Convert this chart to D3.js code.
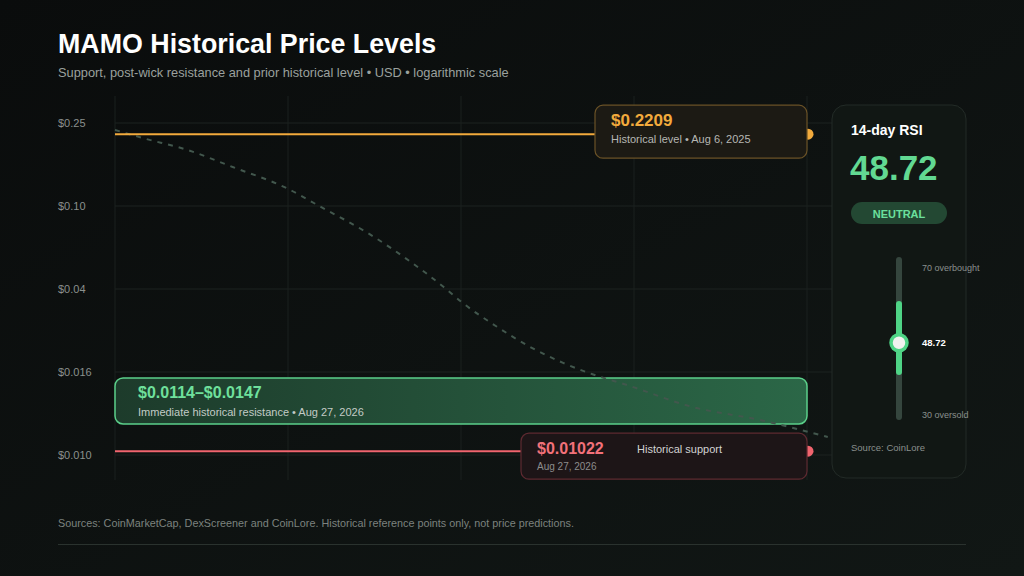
<!DOCTYPE html>
<html>
<head>
<meta charset="utf-8">
<script src="https://cdn.jsdelivr.net/npm/d3@7"></script>
<style>
  html, body { margin: 0; padding: 0; background: #0c0e0e; }
  svg { display: block; font-family: "Liberation Sans", Arial, sans-serif; }
</style>
</head>
<body>
<div id="chart"></div>
<script>
// price levels (USD)
var yTicks = [0.25, 0.10, 0.04, 0.016, 0.010];
var yTickLabels = ["$0.25", "$0.10", "$0.04", "$0.016", "$0.010"];
var xTicks = [0, 1, 2, 3, 4];

var historicalLevel = 0.2209;
var supportLevel = 0.01022;
var resistanceBand = [0.0114, 0.0147];

// faint trend path behind the levels (x = period index, y = price)
var trendX = [0, 0.16, 0.42, 0.68, 0.99, 1.19, 1.46, 1.71, 1.9, 2.01, 2.21, 2.4, 2.59, 2.76, 2.96, 3.34, 3.73, 4.12];
var trendPrice = [0.2314, 0.2118, 0.1855, 0.1538, 0.122, 0.099, 0.0743, 0.0539, 0.0409, 0.0343, 0.0263, 0.0211, 0.0177, 0.0158, 0.01486, 0.01312, 0.01219, 0.01107];

// RSI
var rsiValue = 48.72;
var rsiBounds = [30, 70];
var rsiNeutral = [40, 60];

var W = 1024, H = 576;
var svg = d3.select("#chart").append("svg")
    .attr("width", W)
    .attr("height", H);

var defs = svg.append("defs");
var bg = defs.append("linearGradient").attr("id", "bg")
    .attr("x1", 0).attr("y1", 0).attr("x2", 1).attr("y2", 1);
bg.append("stop").attr("offset", "0%").attr("stop-color", "#0a0c0c");
bg.append("stop").attr("offset", "100%").attr("stop-color", "#111715");

var band = defs.append("linearGradient").attr("id", "band")
    .attr("x1", 0).attr("y1", 0).attr("x2", 1).attr("y2", 0);
band.append("stop").attr("offset", "0%").attr("stop-color", "#1d3b2b");
band.append("stop").attr("offset", "100%").attr("stop-color", "#2b6747");

svg.append("rect").attr("width", W).attr("height", H).attr("fill", "url(#bg)");

// title
svg.append("text")
    .attr("x", 58).attr("y", 53)
    .attr("fill", "#ffffff")
    .attr("font-size", 26.8).attr("font-weight", "bold")
    .text("MAMO Historical Price Levels");
svg.append("text")
    .attr("x", 58).attr("y", 77)
    .attr("fill", "#9ba19e")
    .attr("font-size", 12.8)
    .text("Support, post-wick resistance and prior historical level \u2022 USD \u2022 logarithmic scale");

// scales
var plotLeft = 115, plotRight = 807, plotTop = 123, step = 83;
var x = d3.scaleLinear().domain([0, 4]).range([plotLeft, plotRight]);
var y = d3.scaleLog()
    .domain(yTicks)
    .range(yTicks.map(function(d, i) { return plotTop + i * step; }));

// grid
var grid = svg.append("g");
grid.selectAll(".hg").data(yTicks).enter().append("line")
    .attr("x1", plotLeft).attr("x2", 832)
    .attr("y1", function(d) { return y(d); })
    .attr("y2", function(d) { return y(d); })
    .attr("stroke", "#1c2220").attr("stroke-width", 1);
grid.selectAll(".vg").data(xTicks).enter().append("line")
    .attr("x1", function(d) { return x(d); })
    .attr("x2", function(d) { return x(d); })
    .attr("y1", 96).attr("y2", 480)
    .attr("stroke", "#1a201e").attr("stroke-width", 1);

// y axis labels
var yAxis = d3.axisLeft(y)
    .tickValues(yTicks)
    .tickFormat(function(d, i) { return yTickLabels[i]; })
    .tickSize(0);
var ya = svg.append("g").attr("transform", "translate(58,0)").call(yAxis);
ya.select(".domain").remove();
ya.selectAll("text")
    .attr("x", 0)
    .attr("text-anchor", "start")
    .attr("fill", "#8a908d")
    .attr("font-size", 11)
    .attr("font-family", "Liberation Sans, Arial, sans-serif");

// resistance band box
var bandTop = y(resistanceBand[1]) - 9;
svg.append("rect")
    .attr("x", plotLeft).attr("y", bandTop)
    .attr("width", plotRight - plotLeft).attr("height", 46)
    .attr("rx", 8)
    .attr("fill", "url(#band)")
    .attr("stroke", "#5bd08a").attr("stroke-width", 1.5);
svg.append("text")
    .attr("x", plotLeft + 23).attr("y", bandTop + 20)
    .attr("fill", "#6fe09c").attr("font-size", 16).attr("font-weight", "bold")
    .text("$" + resistanceBand[0] + "\u2013$" + resistanceBand[1]);
svg.append("text")
    .attr("x", plotLeft + 23).attr("y", bandTop + 38)
    .attr("fill", "#c3cbc6").attr("font-size", 11)
    .text("Immediate historical resistance \u2022 Aug 27, 2026");

// trend path
var line = d3.line()
    .x(function(d) { return x(d[0]); })
    .y(function(d) { return y(d[1]); })
    .curve(d3.curveMonotoneX);
svg.append("path")
    .datum(d3.zip(trendX, trendPrice))
    .attr("d", line)
    .attr("fill", "none")
    .attr("stroke", "#42574d")
    .attr("stroke-width", 2)
    .attr("stroke-dasharray", "5,6");

// level lines + end dots
function level(v, color) {
    svg.append("line")
        .attr("x1", plotLeft).attr("x2", plotRight + 1)
        .attr("y1", y(v)).attr("y2", y(v))
        .attr("stroke", color).attr("stroke-width", 2);
    svg.append("circle")
        .attr("cx", plotRight + 1).attr("cy", y(v)).attr("r", 5.5)
        .attr("fill", color);
}
level(historicalLevel, "#f2aa3c");
level(supportLevel, "#f0646e");

// historical level label
var hy = y(historicalLevel);
svg.append("rect")
    .attr("x", 595).attr("y", hy - 29)
    .attr("width", plotRight - 595).attr("height", 53)
    .attr("rx", 8)
    .attr("fill", "#1c1a14").attr("stroke", "#6a5227").attr("stroke-width", 1.2);
svg.append("text")
    .attr("x", 611).attr("y", hy - 8)
    .attr("fill", "#f2aa3c").attr("font-size", 17).attr("font-weight", "bold")
    .text("$" + historicalLevel);
svg.append("text")
    .attr("x", 611).attr("y", hy + 9)
    .attr("fill", "#b6b7b3").attr("font-size", 11)
    .text("Historical level \u2022 Aug 6, 2025");

// support label
var sy = y(supportLevel);
svg.append("rect")
    .attr("x", 521).attr("y", sy - 18)
    .attr("width", plotRight - 521).attr("height", 46)
    .attr("rx", 8)
    .attr("fill", "#1d1517").attr("stroke", "#5e2a31").attr("stroke-width", 1.2);
svg.append("text")
    .attr("x", 537).attr("y", sy + 3)
    .attr("fill", "#f2717a").attr("font-size", 16).attr("font-weight", "bold")
    .text("$" + supportLevel);
svg.append("text")
    .attr("x", 637).attr("y", sy + 2)
    .attr("fill", "#d2d2d2").attr("font-size", 11)
    .text("Historical support");
svg.append("text")
    .attr("x", 537).attr("y", sy + 19)
    .attr("fill", "#8c8c8c").attr("font-size", 10)
    .text("Aug 27, 2026");

// RSI panel
var panel = svg.append("g");
panel.append("rect")
    .attr("x", 832).attr("y", 105)
    .attr("width", 134).attr("height", 373)
    .attr("rx", 14)
    .attr("fill", "#111714").attr("stroke", "#232b27").attr("stroke-width", 1);
panel.append("text")
    .attr("x", 851).attr("y", 135)
    .attr("fill", "#ffffff").attr("font-size", 14).attr("font-weight", "bold")
    .text("14-day RSI");
panel.append("text")
    .attr("x", 850).attr("y", 180)
    .attr("fill", "#62d992").attr("font-size", 35).attr("font-weight", "bold")
    .text(rsiValue.toFixed(2));
panel.append("rect")
    .attr("x", 851).attr("y", 202)
    .attr("width", 96).attr("height", 22).attr("rx", 11)
    .attr("fill", "#234833");
panel.append("text")
    .attr("x", 899).attr("y", 217.5)
    .attr("text-anchor", "middle")
    .attr("fill", "#6be09d").attr("font-size", 11).attr("font-weight", "bold")
    .text("NEUTRAL");

var r = d3.scaleLinear().domain(rsiBounds).range([412, 264]);
var tx = 899;
panel.append("line")
    .attr("x1", tx).attr("x2", tx)
    .attr("y1", r(rsiBounds[1]) - 4).attr("y2", r(rsiBounds[0]) + 5)
    .attr("stroke", "#35463e").attr("stroke-width", 6).attr("stroke-linecap", "round");
panel.append("line")
    .attr("x1", tx).attr("x2", tx)
    .attr("y1", r(rsiNeutral[1]) + 3).attr("y2", r(rsiNeutral[0]) - 3)
    .attr("stroke", "#4fd486").attr("stroke-width", 6).attr("stroke-linecap", "round");
panel.append("circle")
    .attr("cx", tx).attr("cy", r(rsiValue)).attr("r", 8)
    .attr("fill", "#f2f2f0").attr("stroke", "#4fd486").attr("stroke-width", 3.5);

panel.append("text")
    .attr("x", 922).attr("y", r(rsiBounds[1]) + 7)
    .attr("fill", "#8a908d").attr("font-size", 9)
    .text(rsiBounds[1] + " overbought");
panel.append("text")
    .attr("x", 922).attr("y", r(rsiValue) + 3)
    .attr("fill", "#ffffff").attr("font-size", 9.5).attr("font-weight", "bold")
    .text(rsiValue.toFixed(2));
panel.append("text")
    .attr("x", 922).attr("y", r(rsiBounds[0]) + 6)
    .attr("fill", "#8a908d").attr("font-size", 9)
    .text(rsiBounds[0] + " oversold");
panel.append("text")
    .attr("x", 851).attr("y", 451)
    .attr("fill", "#8a908d").attr("font-size", 9.5)
    .text("Source: CoinLore");

// footer
svg.append("text")
    .attr("x", 58).attr("y", 527)
    .attr("fill", "#7c827f").attr("font-size", 10.8)
    .text("Sources: CoinMarketCap, DexScreener and CoinLore. Historical reference points only, not price predictions.");
svg.append("line")
    .attr("x1", 58).attr("x2", 966)
    .attr("y1", 544.5).attr("y2", 544.5)
    .attr("stroke", "#2a322e").attr("stroke-width", 1);
</script>
</body>
</html>
